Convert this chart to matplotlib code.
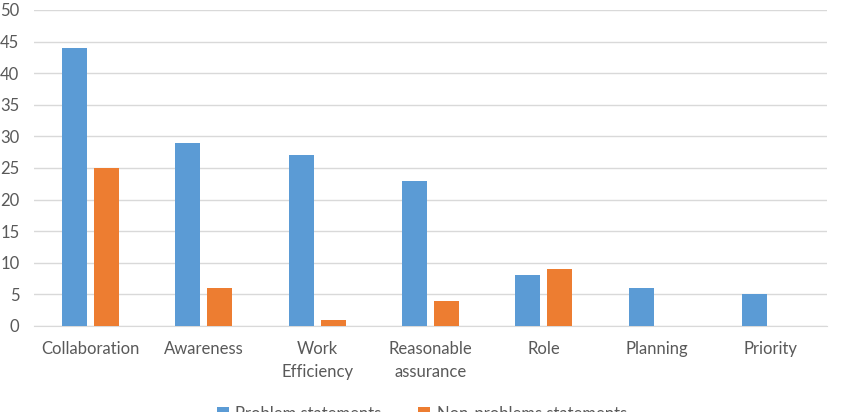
import matplotlib
matplotlib.use("Agg")
import matplotlib.pyplot as plt
import numpy as np

categories = ["Collaboration", "Awareness", "Work\nEfficiency", "Reasonable\nassurance", "Role", "Planning", "Priority"]
problem = [44, 29, 27, 23, 8, 6, 5]
non_problem = [25, 6, 1, 4, 9, 0, 0]
yticks = [0, 5, 10, 15, 20, 25, 30, 35, 40, 45, 50]

plt.rcParams['font.family'] = ['Lato', 'DejaVu Sans']

fig = plt.figure(figsize=(8.44, 4.12), dpi=100)
ax = fig.add_axes([34/844, 1-326/412, (827-34)/844, (326-10)/412])

x = np.arange(len(categories))
w = 0.22
off = 0.141
ax.bar(x - off, problem, w, color='#5B9BD5', label='Problem statements', zorder=3)
ax.bar(x + off, non_problem, w, color='#ED7D31', label='Non-problems statements', zorder=3)

ax.set_xlim(-0.5, len(categories) - 0.5)
ax.set_ylim(0, 50)
ax.set_yticks(yticks)
ax.set_xticks(x)
ax.set_xticklabels(categories, linespacing=1.55)
ax.grid(axis='y', color='#D9D9D9', linewidth=1, zorder=0)
for s in ['top', 'right', 'left']:
    ax.spines[s].set_visible(False)
ax.spines['bottom'].set_color('#D9D9D9')
ax.tick_params(axis='both', length=0, colors='#595959', labelsize=12)
ax.tick_params(axis='y', pad=10.5)
ax.tick_params(axis='x', pad=11)

fig.legend(loc='center', bbox_to_anchor=(0.5, 1-414/412), ncol=2, frameon=False,
           fontsize=12, labelcolor='#595959', handlelength=0.7, handleheight=0.7,
           columnspacing=2.2, handletextpad=0.4)

fig.savefig("out.png", dpi=100)
